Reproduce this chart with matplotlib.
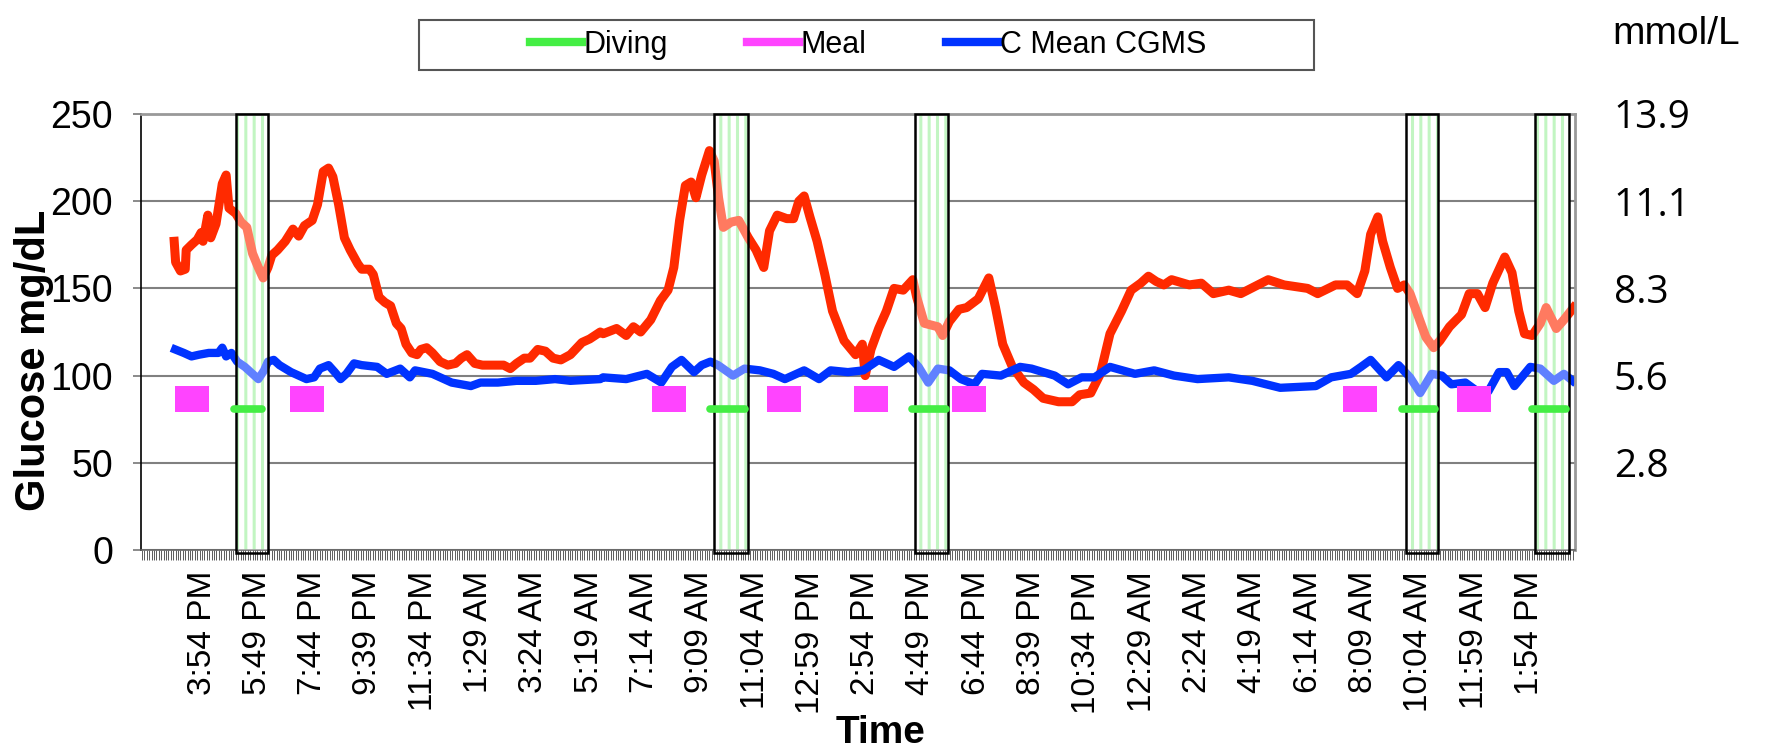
import numpy as np
import matplotlib
matplotlib.use('Agg')
import matplotlib.pyplot as plt
from matplotlib.patches import Rectangle
from matplotlib.lines import Line2D

plt.rcParams['font.family'] = ['Liberation Sans', 'DejaVu Sans']
plt.rcParams['hatch.linewidth'] = 2.2

# all times are minutes after 3:54 PM on day 1
tick_labels = ['3:54 PM', '5:49 PM', '7:44 PM', '9:39 PM', '11:34 PM', '1:29 AM',
               '3:24 AM', '5:19 AM', '7:14 AM', '9:09 AM', '11:04 AM', '12:59 PM',
               '2:54 PM', '4:49 PM', '6:44 PM', '8:39 PM', '10:34 PM', '12:29 AM',
               '2:24 AM', '4:19 AM', '6:14 AM', '8:09 AM', '10:04 AM', '11:59 AM',
               '1:54 PM']
label_step = 115
mgdl_ticks = [0, 50, 100, 150, 200, 250]
mmol_ticks = [50, 100, 150, 200, 250]
mmol_labels = ['2.8', '5.6', '8.3', '11.1', '13.9']

# diver glucose (red)
red_t = [-58, -55, -45, -35, -33, -22, -10, -2, 2, 12, 18, 29, 42, 50, 56, 70, 81, 93,
         105, 117, 127, 137, 145, 157, 173, 189, 201, 213, 229, 240, 252, 263, 272, 284,
         296, 308, 324, 332, 348, 356, 368, 380, 392, 404, 414, 424, 436, 447, 455, 467,
         479, 495, 511, 527, 539, 551, 567, 583, 607, 627, 641, 654, 670, 682, 698, 714,
         730, 746, 766, 790, 806, 828, 834, 862, 882, 897, 912, 933, 953, 969, 981, 993,
         1005, 1017, 1027, 1039, 1055, 1065, 1074, 1084, 1100, 1116, 1128, 1136, 1152,
         1168, 1180, 1196, 1216, 1230, 1241, 1252, 1264, 1279, 1295, 1311, 1335, 1359,
         1373, 1379, 1391, 1407, 1423, 1439, 1458, 1478, 1486, 1502, 1530, 1540, 1554,
         1574, 1590, 1614, 1636, 1650, 1665, 1685, 1709, 1729, 1749, 1781, 1809, 1825,
         1848, 1868, 1888, 1912, 1932, 1952, 1968, 1984, 2000, 2016, 2053, 2078, 2103,
         2135, 2160, 2217, 2250, 2299, 2320, 2357, 2381, 2402, 2418, 2430, 2445, 2455,
         2471, 2486, 2500, 2512, 2533, 2545, 2561, 2574, 2594, 2619, 2635, 2652, 2668,
         2684, 2709, 2724, 2738, 2750, 2766, 2783, 2795, 2816, 2832, 2852]
red_v = [177, 165, 160, 161, 172, 175, 178, 182, 177, 192, 179, 187, 210, 215, 196, 193,
         188, 185, 170, 162, 156, 162, 169, 172, 177, 184, 180, 186, 189, 198, 217, 219,
         214, 198, 179, 172, 164, 161, 161, 158, 145, 142, 140, 130, 127, 118, 113, 112,
         115, 116, 113, 108, 106, 107, 110, 112, 107, 106, 106, 106, 104, 107, 110, 110,
         115, 114, 110, 109, 112, 119, 121, 125, 124, 127, 123, 128, 125, 132, 143, 149,
         162, 189, 209, 211, 202, 215, 229, 223, 202, 185, 188, 189, 183, 179, 172, 162,
         183, 192, 190, 190, 200, 203, 191, 177, 158, 137, 120, 112, 118, 100, 115, 127,
         137, 150, 149, 155, 145, 130, 128, 123, 131, 138, 139, 144, 156, 139, 118, 105,
         96, 92, 87, 85, 85, 89, 90, 101, 124, 137, 149, 153, 157, 154, 152, 155, 152,
         153, 147, 149, 147, 155, 152, 150, 147, 152, 152, 147, 160, 181, 191, 177, 162,
         150, 152, 147, 131, 122, 116, 120, 128, 135, 147, 147, 139, 153, 168, 159, 137,
         124, 123, 130, 139, 127, 132, 139]

# C Mean CGMS (blue)
blue_t = [-56, -38, -22, -6, 14, 34, 42, 50, 61, 73, 89, 105, 117, 129, 137, 149, 161,
          185, 201, 217, 233, 245, 263, 276, 288, 300, 316, 332, 364, 384, 412, 432, 443,
          479, 519, 559, 579, 615, 654, 694, 734, 766, 828, 834, 882, 925, 955, 977, 997,
          1023, 1039, 1057, 1073, 1104, 1128, 1160, 1188, 1212, 1252, 1283, 1307, 1343,
          1375, 1407, 1439, 1470, 1490, 1510, 1530, 1554, 1578, 1606, 1622, 1661, 1701,
          1725, 1773, 1801, 1829, 1856, 1888, 1940, 1980, 2021, 2070, 2135, 2184, 2242,
          2316, 2348, 2389, 2410, 2430, 2463, 2488, 2512, 2533, 2557, 2578, 2598, 2627,
          2652, 2675, 2697, 2713, 2729, 2762, 2783, 2811, 2832, 2850]
blue_v = [115, 113, 111, 112, 113, 113, 116, 111, 113, 108, 105, 101, 98, 103, 108, 109,
          106, 102, 100, 98, 99, 104, 106, 102, 98, 101, 107, 106, 105, 101, 104, 99, 103,
          101, 96, 94, 96, 96, 97, 97, 98, 97, 98, 99, 98, 101, 96, 105, 109, 102, 106,
          108, 106, 100, 104, 103, 101, 98, 103, 98, 103, 102, 103, 109, 105, 111, 105,
          96, 104, 103, 98, 95, 101, 100, 105, 104, 100, 95, 99, 99, 105, 101, 103, 100,
          98, 99, 97, 93, 94, 99, 101, 105, 109, 99, 106, 99, 90, 101, 100, 95, 96, 91,
          91, 102, 102, 94, 105, 104, 97, 101, 97]

# diving periods: shaded bands and the diving marker lines
band_start = [70, 1065, 1482, 2504, 2772]
band_end = [137, 1136, 1551, 2570, 2842]
dive_start = [66, 1056, 1476, 2495, 2766]
dive_end = [125, 1128, 1546, 2563, 2836]
dive_level = 81

# meals
meal_start = [-56, 183, 936, 1175, 1356, 1560, 2373, 2610]
meal_len = 70
meal_low, meal_high = 79, 94

red = '#ff2a00'
blue = '#0033ff'
green = '#44ee44'
magenta = '#ff44ff'

fig = plt.figure(figsize=(17.68, 7.51), dpi=100)
ax = fig.add_axes([141 / 1768, 1 - 550 / 751, 1434 / 1768, 436 / 751])

ax.plot(red_t, red_v, color=red, lw=6.5, solid_joinstyle='round', zorder=2)
ax.plot(blue_t, blue_v, color=blue, lw=6, solid_joinstyle='round', zorder=2)

ax.broken_barh([(s, meal_len) for s in meal_start], (meal_low, meal_high - meal_low),
               facecolor=magenta, edgecolor='none', zorder=2)

for s, e in zip(band_start, band_end):
    # green striped band under the curves, pale veil over them
    ax.add_patch(Rectangle((s, 0), e - s, 250, facecolor='white',
                           edgecolor='#9ef09e', lw=0, hatch='||', zorder=1.5))
    ax.add_patch(Rectangle((s, 0), e - s, 250, facecolor=(1, 1, 1, 0.38),
                           edgecolor='none', zorder=3))
    ax.add_patch(Rectangle((s, -2), e - s, 252, fill=False, edgecolor='black',
                           lw=1.8, zorder=4, clip_on=False))

for s, e in zip(dive_start, dive_end):
    ax.plot([s, e], [dive_level, dive_level], color=green, lw=5.5,
            solid_capstyle='round', zorder=5)

ax.set_xlim(-127, 2855)
ax.set_ylim(0, 250)
ax.set_yticks(mgdl_ticks)
ax.set_xticks(np.arange(len(tick_labels)) * label_step)
ax.set_xticklabels(tick_labels, rotation=90, fontsize=24)
ax.set_xticks(np.arange(-125, 2855, 5), minor=True)
ax.tick_params(axis='x', which='both', length=7, width=0.6, color='#444444', pad=8)
ax.tick_params(axis='y', labelsize=27, length=6, width=1.2, color='#777777', pad=14)
ax.grid(axis='y', color='#808080', lw=1.5)
ax.set_axisbelow(True)
for side in ['top', 'right']:
    ax.spines[side].set_color('#999999')
    ax.spines[side].set_linewidth(2)
ax.spines['left'].set_linewidth(1.2)
ax.spines['bottom'].set_linewidth(1.2)
ax.spines['bottom'].set_color('#666666')

ax2 = ax.twinx()
ax2.set_ylim(0, 250)
ax2.set_yticks(mmol_ticks)
ax2.set_yticklabels(mmol_labels, family=['Open Sans', 'DejaVu Sans'], fontsize=28)
ax2.tick_params(axis='y', length=0, pad=28)
for sp in ax2.spines.values():
    sp.set_visible(False)

fig.text(34 / 1768, 0.52, 'Glucose mg/dL', rotation=90, ha='center', va='center',
         fontsize=30, fontweight='bold')
fig.text(0.498, 0.024, 'Time', ha='center', va='center', fontsize=28, fontweight='bold')
fig.text(1612 / 1768, 1 - 34 / 751, 'mmol/L', ha='left', va='center', fontsize=28,
         family=['Liberation Sans Narrow', 'Liberation Sans'])

handles = [Line2D([], [], color=green, lw=6),
           Line2D([], [], color=magenta, lw=6),
           Line2D([], [], color=blue, lw=6)]
fig.legend(handles, ['Diving', 'Meal', 'C Mean CGMS'], loc='center',
           bbox_to_anchor=(868 / 1768, 1 - 45 / 751), ncol=3, frameon=False,
           handlelength=1.7, handletextpad=0.05, columnspacing=2.6,
           prop={'family': ['Liberation Sans Narrow', 'Liberation Sans'], 'size': 22})
fig.patches.append(Rectangle((419 / 1768, 1 - 70 / 751), 895 / 1768, 50 / 751,
                             transform=fig.transFigure, fill=False,
                             edgecolor='#555555', lw=1.5))

fig.savefig('out.png', dpi=100)
